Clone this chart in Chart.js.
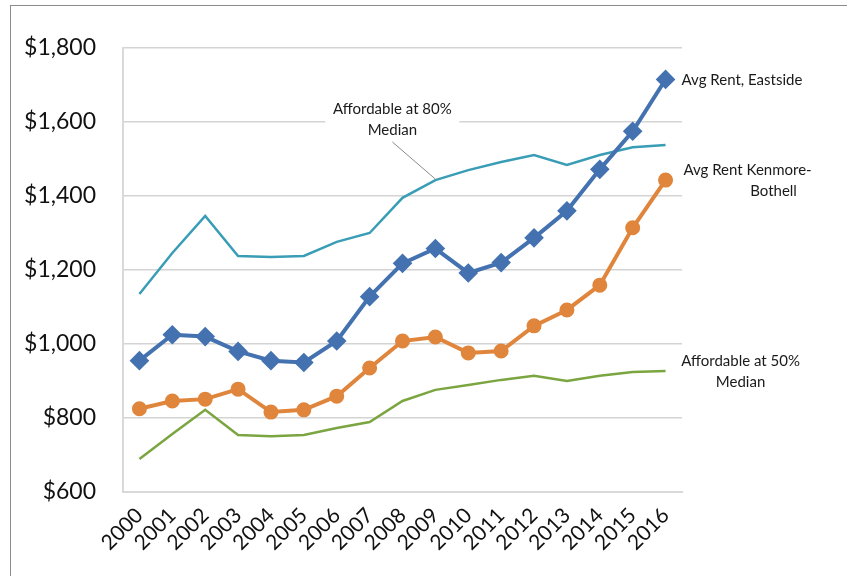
<!DOCTYPE html>
<html>
<head>
<meta charset="utf-8">
<script src="https://cdn.jsdelivr.net/npm/chart.js@4/dist/chart.umd.min.js"></script>
<style>
    html, body { margin: 0; padding: 0; background: #fff; }
    #wrap { position: relative; width: 847px; height: 576px; }
    #frame { position: absolute; left: 10px; top: 5px; right: -2px; bottom: -2px; border: 1px solid #8c8c8c; pointer-events: none; }
</style>
</head>
<body>
<div id="wrap">
    <canvas id="rentChart" width="847" height="576"></canvas>
    <div id="frame"></div>
</div>
<script>
// --- Data ---
const years = ['2000', '2001', '2002', '2003', '2004', '2005', '2006', '2007', '2008',
    '2009', '2010', '2011', '2012', '2013', '2014', '2015', '2016'];
const rentEastside = [955, 1025, 1020, 980, 955, 950, 1008, 1128, 1218, 1258, 1192, 1220, 1287, 1360, 1472, 1575, 1715];
const rentKenmore = [825, 846, 851, 878, 816, 822, 859, 935, 1008, 1019, 976, 981, 1049, 1092, 1159, 1314, 1443];
const affordable80 = [1135, 1246, 1346, 1238, 1235, 1238, 1276, 1300, 1395, 1443, 1470, 1492, 1511, 1484, 1511, 1532, 1538];
const affordable50 = [689, 757, 822, 754, 751, 754, 773, 789, 846, 876, 889, 903, 914, 900, 914, 924, 927];
const yTicks = [600, 800, 1000, 1200, 1400, 1600, 1800];

const FONT = 'Lato, "Open Sans", sans-serif';

// Series labels drawn next to the lines, plus the leader for the 80% label
const seriesLabels = {
    id: 'seriesLabels',
    afterDatasetsDraw(chart) {
        const ctx = chart.ctx;
        const last = years.length - 1;
        const pt = (ds, i) => chart.getDatasetMeta(ds).data[i];
        ctx.save();
        ctx.font = '15px ' + FONT;
        ctx.fillStyle = '#1a1a1a';
        ctx.textBaseline = 'middle';

        const e = pt(0, last);
        ctx.textAlign = 'left';
        ctx.fillText('Avg Rent, Eastside', e.x + 16, e.y + 1);

        const k = pt(1, last);
        ctx.textAlign = 'center';
        ctx.fillText('Avg Rent Kenmore-', k.x + 82, k.y - 10);
        ctx.fillText('Bothell', k.x + 108, k.y + 11);

        const g = pt(3, last);
        ctx.fillText('Affordable at 50%', g.x + 75, g.y - 10);
        ctx.fillText('Median', g.x + 75, g.y + 11);

        // 80% label sits over the $1,600 gridline with a white box
        const t = pt(2, 9);
        const cx = t.x - 43, cy = 109;
        ctx.fillStyle = '#fff';
        ctx.fillRect(cx - 67, cy - 12, 134, 40);
        ctx.strokeStyle = '#8a8a8a';
        ctx.lineWidth = 1;
        ctx.beginPath();
        ctx.moveTo(cx, cy + 33);
        ctx.lineTo(t.x, t.y - 1);
        ctx.stroke();
        ctx.fillStyle = '#1a1a1a';
        ctx.fillText('Affordable at 80%', cx, cy);
        ctx.fillText('Median', cx, cy + 21);
        ctx.restore();
    }
};

new Chart(document.getElementById('rentChart').getContext('2d'), {
    type: 'line',
    data: {
        labels: years,
        datasets: [{
            label: 'Avg Rent, Eastside',
            data: rentEastside,
            borderColor: '#4472b0',
            backgroundColor: '#4472b0',
            borderWidth: 4,
            pointStyle: 'rectRot',
            pointRadius: 7,
            pointHoverRadius: 7,
            tension: 0
        }, {
            label: 'Avg Rent Kenmore-Bothell',
            data: rentKenmore,
            borderColor: '#e0853c',
            backgroundColor: '#e0853c',
            borderWidth: 4,
            pointStyle: 'circle',
            pointRadius: 5.5,
            pointHoverRadius: 5.5,
            tension: 0
        }, {
            label: 'Affordable at 80% Median',
            data: affordable80,
            borderColor: '#3a9db6',
            borderWidth: 2.5,
            pointRadius: 0,
            tension: 0
        }, {
            label: 'Affordable at 50% Median',
            data: affordable50,
            borderColor: '#7ba541',
            borderWidth: 2.5,
            pointRadius: 0,
            tension: 0
        }]
    },
    options: {
        responsive: false,
        animation: false,
        layout: { padding: { left: 0, right: 165, top: 48, bottom: 0 } },
        plugins: {
            legend: { display: false },
            tooltip: { enabled: false }
        },
        scales: {
            x: {
                offset: true,
                grid: { display: false },
                border: { display: true, color: '#d9d9d9', width: 2 },
                ticks: {
                    color: '#111',
                    font: { family: FONT, size: 21 },
                    autoSkip: false,
                    minRotation: 45,
                    maxRotation: 45,
                    padding: 3
                },
                afterFit(scale) { scale.height = 84; }
            },
            y: {
                min: 600,
                max: 1800,
                afterBuildTicks(scale) { scale.ticks = yTicks.map(v => ({ value: v })); },
                grid: { color: '#d4d4d4', lineWidth: 1.5, drawTicks: false },
                border: { display: true, color: '#d9d9d9', width: 2 },
                ticks: {
                    color: '#111',
                    font: { family: FONT, size: 23 },
                    padding: 27,
                    callback: v => '$' + v.toLocaleString('en-US')
                },
                afterFit(scale) { scale.width = 123; }
            }
        }
    },
    plugins: [seriesLabels]
});
</script>
</body>
</html>
